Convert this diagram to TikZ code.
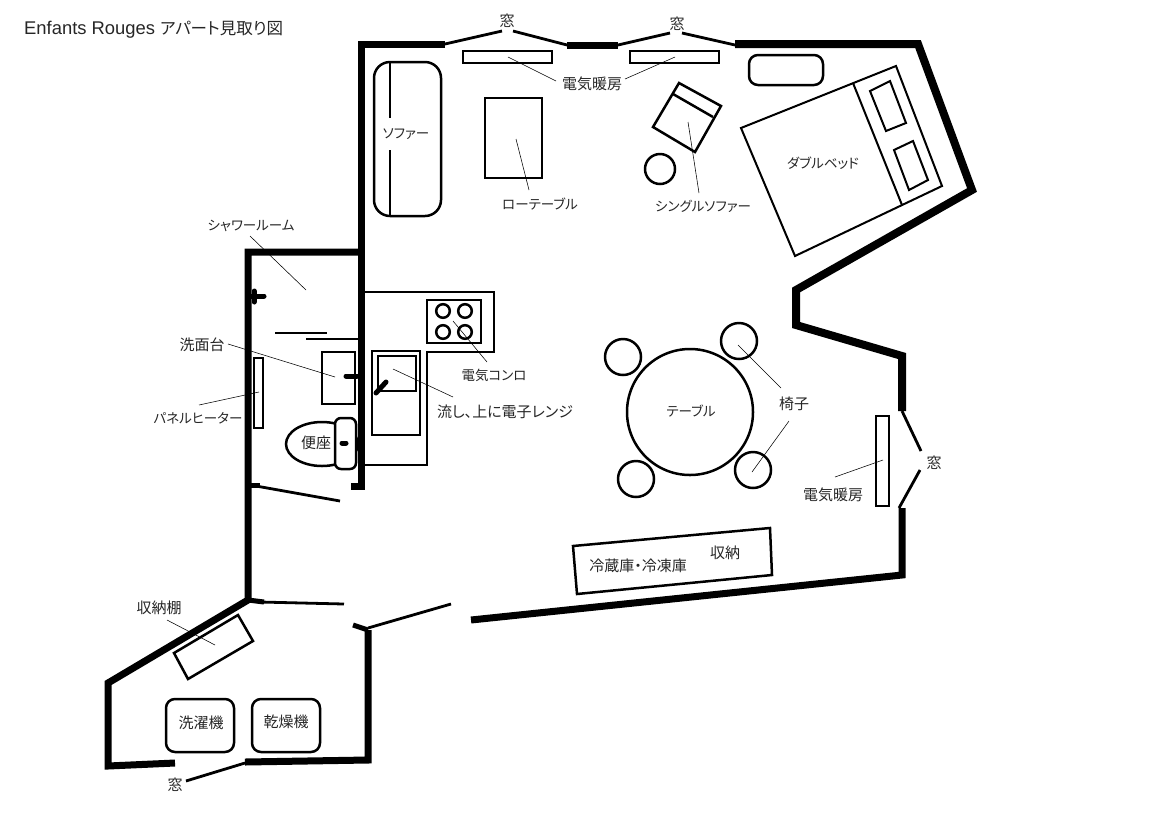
\documentclass[tikz,border=0pt]{standalone}
\usepackage{fontspec}
\setmainfont{Liberation Sans}
\newfontfamily\jpfont[RawFeature=+palt]{Noto Sans CJK JP}
\tikzset{
  wall/.style={line width=7pt},
  widewall/.style={line width=8pt},
  thinwall/.style={line width=5pt},
  winline/.style={line width=2.8pt},
  furn/.style={line width=2.5pt},
  bedline/.style={line width=2pt},
  leader/.style={line width=.55pt},
  lbl/.style={inner sep=0pt, text=black!85, font=\jpfont\fontsize{15}{15}\selectfont},
  kanalbl/.style={lbl, font=\jpfont\fontsize{13.5}{15}\selectfont},
}
\begin{document}
\begin{tikzpicture}
  \useasboundingbox (0,0) rectangle (1158pt,-823pt);
  \begin{scope}[x=1pt, y=-1pt]
      % Outer walls of the main room
      \draw[wall] (445,44) -- (361,44) -- (361,490);
      \draw[wall] (567,45) -- (618,45);
      \draw[widewall] (735,44) -- (918,44) -- (972,190) -- (796,290) -- (796,325) -- (902,356) -- (902,411);
      \draw[wall] (902,508) -- (902,575) -- (471,620);

      % Windows
      \draw[winline] (445,44) -- (502,31);
      \draw[winline] (513,31) -- (567,45);
      \draw[winline] (618,45) -- (670,33);
      \draw[winline] (682,33) -- (735,45);
      \draw[winline] (902,411) -- (921,451);
      \draw[winline] (920,470) -- (899,508);
      \draw[winline] (186,781) -- (245,763);

      % Shower room and utility room walls
      \draw[wall] (361,252) -- (248,252) -- (248,600) -- (108,683) -- (108,766) -- (175,763);
      \draw[wall] (245,762) -- (368,760) -- (368,630);
      \draw[wall] (351,486) -- (361,486);
      \draw[thinwall] (248,485) -- (260,485);
      \draw[thinwall] (248,600) -- (264,602);
      \draw[thinwall] (353,625) -- (368,630);

      % Doors
      \draw[winline] (256,486) -- (340,501);
      \draw[winline] (260,602) -- (344,604);
      \draw[winline] (368,628) -- (451,604);

      % Shower room
      \draw[line width=5pt, line cap=round] (250,296) -- (264,296);
      \draw[line width=5pt, line cap=round] (254,291) -- (254,302);
      \draw[furn] (275,333) -- (327,333);
      \draw[furn] (306,339) -- (361,339);
      \draw[furn] (322,352) rectangle (355,404);
      \draw[line width=5pt, line cap=round] (346,376) -- (357,376);
      \draw[furn] (254,358) rectangle (263,428);
      \draw[furn] (322,444) ellipse [x radius=36pt, y radius=22pt];
      \draw[furn, fill=white, rounded corners=6pt] (335,418) rectangle (356,469);
      \draw[line width=5pt, line cap=round] (342,443) -- (346,443);

      % Kitchen
      \draw[furn] (365,292) -- (494,292) -- (494,352) -- (427,352) -- (427,465) -- (365,465);
      \draw[furn] (427,300) rectangle (481,343);
      \foreach \x in {443,465}
        \foreach \y in {311,332}
          \draw[furn] (\x,\y) circle (6.8pt);
      \draw[furn] (372,351) rectangle (420,435);
      \draw[furn] (378,356) rectangle (416,391);
      \draw[line width=5pt, line cap=round] (376,393) -- (386,382);

      % Sofa, low table, heaters
      \draw[furn, rounded corners=16pt] (374,62) rectangle (441,216);
      \draw[furn] (390,63) -- (390,118);
      \draw[furn] (390,150) -- (390,216);
      \draw[furn] (463,51) rectangle (552,63);
      \draw[furn] (630,51) rectangle (719,63);
      \draw[furn] (485,98) rectangle (542,178);

      % Single sofa and stool
      \draw[furn] (679,83) -- (721,106) -- (695,152) -- (653,127) -- cycle;
      \draw[furn] (673,94) -- (713,117);
      \draw[furn] (660,169) circle (15pt);

      % Cabinet and double bed
      \draw[furn, rounded corners=9pt] (749,55) rectangle (823,85);
      \draw[bedline] (741,128) -- (795,256) -- (942,186) -- (896,66) -- cycle;
      \draw[bedline] (853,83) -- (902,205);
      \draw[bedline] (870,91) -- (890,81) -- (906,123) -- (886,131) -- cycle;
      \draw[bedline] (894,150) -- (913,141) -- (928,180) -- (909,190) -- cycle;

      % Dining table and chairs
      \draw[furn] (690,412) circle (63pt);
      \draw[furn] (623,357) circle (18pt);
      \draw[furn] (739,341) circle (18pt);
      \draw[furn] (636,479) circle (18pt);
      \draw[furn] (753,470) circle (18pt);

      % Right heater and storage
      \draw[furn] (876,416) rectangle (889,506);
      \draw[furn] (573,546) -- (770,528) -- (772,575) -- (577,594) -- cycle;

      % Utility room
      \draw[furn] (238,615) -- (253,641) -- (188,679) -- (174,653) -- cycle;
      \draw[furn, rounded corners=9pt] (166,699) rectangle (234,752);
      \draw[furn, rounded corners=9pt] (252,699) rectangle (320,752);

      % Leader lines
      \draw[leader] (508,57) -- (556,81);
      \draw[leader] (675,57) -- (625,79);
      \draw[leader] (516,139) -- (529,190);
      \draw[leader] (688,122) -- (699,193);
      \draw[leader] (250,236) -- (306,290);
      \draw[leader] (228,344) -- (335,377);
      \draw[leader] (199,405) -- (259,392);
      \draw[leader] (453,321) -- (487,362);
      \draw[leader] (393,369) -- (453,397);
      \draw[leader] (738,345) -- (781,388);
      \draw[leader] (789,421) -- (752,472);
      \draw[leader] (883,460) -- (835,477);
      \draw[leader] (167,620) -- (215,645);

      % Labels
      \node[lbl, anchor=west, font=\fontsize{18.4}{18}\selectfont] (title) at (24,30) {Enfants Rouges {\jpfont\fontsize{16.5}{18}\selectfont アパート見取り図}};
      \node[lbl] (win1) at (507,21) {窓};
      \node[lbl] (win2) at (677,24) {窓};
      \node[lbl] (win3) at (934,463) {窓};
      \node[lbl] (win4) at (175,785) {窓};
      \node[lbl] (heat1) at (592,84) {電気暖房};
      \node[lbl] (heat2) at (833,495) {電気暖房};
      \node[kanalbl] (sofa) at (406,134) {ソファー};
      \node[kanalbl] (lowtable) at (540,204) {ローテーブル};
      \node[kanalbl] (single) at (703,206) {シングルソファー};
      \node[kanalbl] (bed) at (823,163) {ダブルベッド};
      \node[kanalbl] (shower) at (251,226) {シャワールーム};
      \node[lbl] (basin) at (202,345) {洗面台};
      \node[kanalbl] (panel) at (198,418) {パネルヒーター};
      \node[lbl] (toilet) at (316,443) {便座};
      \node[kanalbl] (hob) at (494,375) {電気コンロ};
      \node[lbl] (sink) at (505,412) {流し、上に電子レンジ};
      \node[kanalbl] (table) at (691,411) {テーブル};
      \node[lbl] (chair) at (794,404) {椅子};
      \node[lbl] (fridge) at (638,566) {冷蔵庫・冷凍庫};
      \node[lbl] (store) at (725,553) {収納};
      \node[lbl] (shelf) at (159,608) {収納棚};
      \node[lbl] (washer) at (201,723) {洗濯機};
      \node[lbl] (dryer) at (286,722) {乾燥機};
  \end{scope}
\end{tikzpicture}
\end{document}
